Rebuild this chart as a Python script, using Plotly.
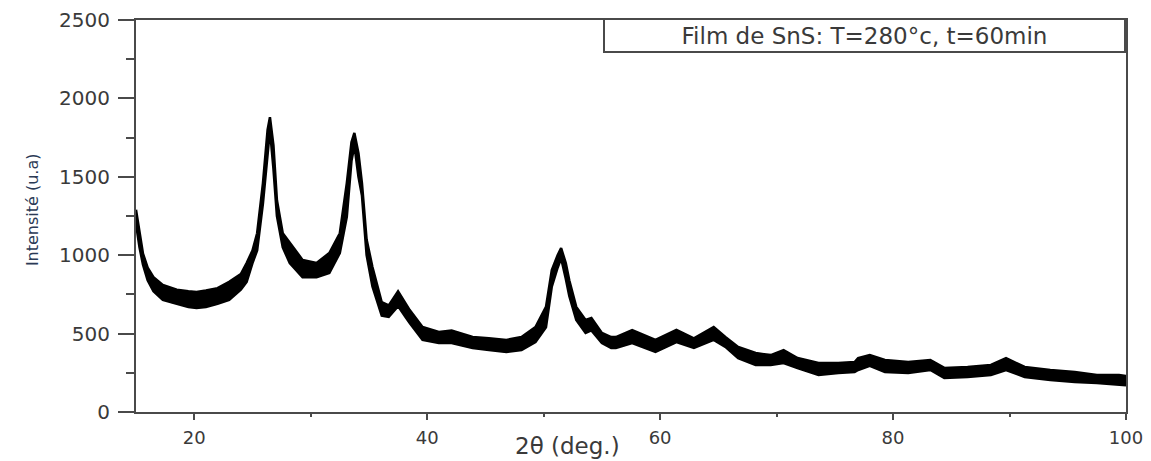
import plotly.graph_objects as go

# 2-theta positions (deg.)
two_theta = [15.0, 15.3, 15.6, 16.0, 16.5, 17.3, 18.5, 19.5, 20.2, 21.0, 22.0, 23.0, 24.0, 24.5,
             25.0, 25.4, 25.9, 26.3, 26.5, 26.8, 27.1, 27.6, 28.2, 29.3, 30.5, 31.6, 32.5, 33.1,
             33.5, 33.75, 34.1, 34.4, 34.8, 35.3, 36.1, 36.7, 37.5, 38.2, 38.5, 39.6, 41.0, 42.1,
             43.9, 45.3, 46.8, 48.1, 49.3, 50.2, 50.7, 51.2, 51.5, 51.9, 52.2, 52.8, 53.6, 54.1,
             55.0, 55.8, 56.2, 57.6, 59.6, 61.4, 62.9, 64.6, 65.6, 66.7, 68.2, 69.5, 70.6, 71.8,
             73.6, 75.3, 76.7, 77.0, 78.0, 79.3, 81.3, 83.2, 84.4, 86.4, 88.4, 89.7, 91.3, 93.5,
             95.6, 97.5, 99.4, 100.0]

# upper edge of the noisy intensity band (u.a)
intensity_upper = [1290, 1150, 1010, 920, 860, 810, 780, 770, 765, 775, 790, 830, 880, 950,
                   1030, 1140, 1460, 1800, 1880, 1700, 1350, 1140, 1080, 970, 950, 1014, 1140, 1460,
                   1720, 1780, 1650, 1460, 1100, 925, 700, 680, 770, 680, 650, 542, 510, 520,
                   478, 470, 460, 478, 542, 670, 905, 1000, 1045, 950, 840, 670, 587, 600,
                   504, 478, 478, 523, 460, 523, 470, 542, 478, 415, 376, 363, 395, 344,
                   312, 312, 319, 344, 363, 332, 319, 332, 281, 287, 300, 344, 287, 268,
                   255, 236, 236, 230]

# lower edge of the noisy intensity band (u.a)
intensity_lower = [1200, 1050, 940, 840, 770, 715, 690, 670, 663, 670, 690, 715, 780, 830,
                   950, 1030, 1330, 1650, 1800, 1550, 1250, 1050, 950, 860, 860, 886, 1014, 1244,
                   1600, 1700, 1500, 1380, 1000, 800, 615, 606, 675, 600, 568, 460, 440, 440,
                   408, 395, 383, 395, 446, 540, 800, 920, 980, 850, 740, 587, 504, 520,
                   440, 408, 408, 440, 383, 446, 408, 460, 415, 344, 300, 300, 312, 280,
                   236, 249, 255, 268, 295, 255, 249, 268, 217, 223, 236, 268, 223, 204,
                   191, 185, 172, 170]

x_ticks = [20, 40, 60, 80, 100]
y_ticks = [0, 500, 1000, 1500, 2000, 2500]
legend_text = "Film de SnS: T=280°c, t=60min"
x_title = "2θ (deg.)"
y_title = "Intensité (u.a)"

FONT = "DejaVu Sans"
AX = "#4a4a4a"
TXT = "#3a3a3a"

fig = go.Figure()
fig.add_trace(go.Scatter(x=two_theta, y=intensity_lower, mode="lines",
                         line=dict(color="black", width=2.5), hoverinfo="skip",
                         showlegend=False))
fig.add_trace(go.Scatter(x=two_theta, y=intensity_upper, mode="lines",
                         line=dict(color="black", width=2.5), fill="tonexty",
                         fillcolor="black", showlegend=False))

fig.update_layout(
    width=1151, height=461,
    margin=dict(l=136, r=25, t=20, b=49),
    paper_bgcolor="white", plot_bgcolor="white",
    showlegend=False,
    font=dict(family=FONT, color=TXT),
)

fig.update_xaxes(
    range=[15, 100], tickvals=x_ticks, ticktext=[str(v) for v in x_ticks],
    showgrid=False, zeroline=False, automargin=False,
    showline=True, linecolor=AX, linewidth=2, mirror=True,
    ticks="outside", ticklen=6, tickwidth=2, tickcolor=AX,
    minor=dict(dtick=10, ticks="outside", ticklen=3, tickwidth=2, tickcolor=AX),
    tickfont=dict(family=FONT, size=18, color=TXT),
    ticklabelstandoff=2, ticklabeloverflow="allow",
)
fig.update_yaxes(
    range=[0, 2500], tickvals=y_ticks, ticktext=[str(v) for v in y_ticks],
    showgrid=False, zeroline=False, automargin=False,
    showline=True, linecolor=AX, linewidth=2, mirror=True,
    ticks="outside", ticklen=16, tickwidth=2, tickcolor=AX,
    minor=dict(dtick=250, ticks="outside", ticklen=8, tickwidth=2, tickcolor=AX),
    tickfont=dict(family=FONT, size=20, color=TXT),
    ticklabelstandoff=4, ticklabeloverflow="allow",
)

# x-axis title
fig.add_annotation(text=x_title, xref="paper", yref="paper", x=0.436, y=0,
                   xanchor="center", yanchor="middle", yshift=-34, showarrow=False,
                   font=dict(family=FONT, size=23, color=TXT))
# y-axis title
fig.add_annotation(text=y_title, xref="paper", yref="paper", x=0, y=0.515,
                   xanchor="center", yanchor="middle", xshift=-104, textangle=-90,
                   showarrow=False, font=dict(family=FONT, size=16, color="#2b3a55"))
# legend box
fig.add_annotation(text=legend_text, xref="paper", yref="paper", x=1, y=1,
                   xanchor="right", yanchor="top", yshift=2, showarrow=False,
                   width=517, height=29, align="center", valign="middle",
                   bgcolor="white", bordercolor=AX, borderwidth=2, borderpad=1,
                   font=dict(family=FONT, size=23, color=TXT))

fig.write_html(
    "out.html",
    config={"displayModeBar": False},
    post_script="document.body.style.margin='0';document.body.style.overflow='hidden';",
)
